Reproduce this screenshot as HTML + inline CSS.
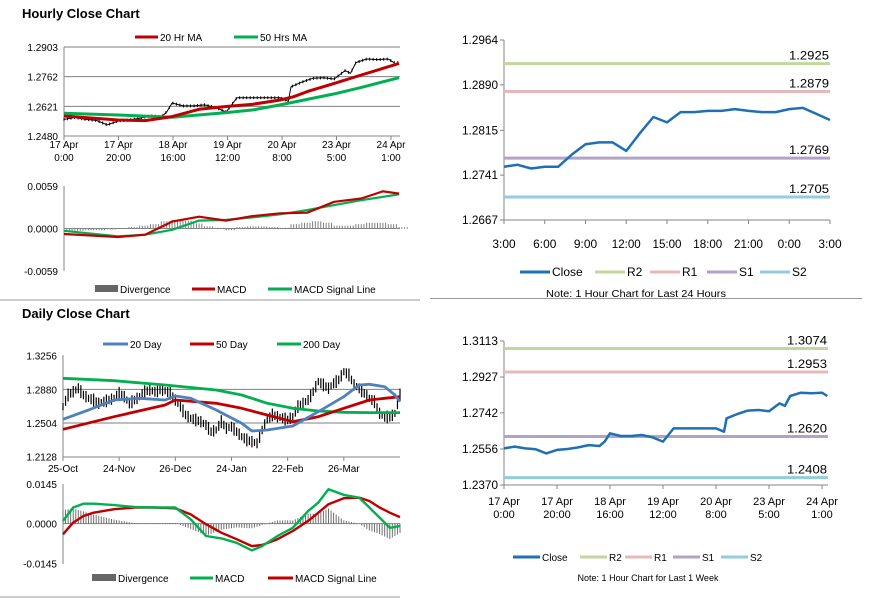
<!DOCTYPE html>
<html><head><meta charset="utf-8"><style>
html,body{margin:0;padding:0;background:#fff;}
svg{display:block;font-family:"Liberation Sans",sans-serif;}
</style></head><body>
<svg id="s" width="873" height="601" viewBox="0 0 873 601" xmlns="http://www.w3.org/2000/svg"></svg>
<script>
// ---------- DATA ----------
// Hourly (last week), hour index from 17 Apr 0:00
const wkHours=[0,4,8,12,16,20,24,28,32,36,38,40,44,48,52,56,60,64,68,72,76,80,83,84,88,92,96,100,104,106,108,112,116,120,122];
const wkClose=[1.2559,1.2568,1.2559,1.2554,1.2533,1.2551,1.2556,1.2564,1.2576,1.2571,1.2594,1.2637,1.2623,1.2623,1.2628,1.2616,1.2594,1.2662,1.2662,1.2662,1.2662,1.2662,1.2645,1.2714,1.2736,1.2754,1.2757,1.2751,1.2791,1.2778,1.2829,1.2846,1.2843,1.2846,1.2829];
const maHours=[0,20,30,40,50,60,70,80,85,90,100,110,124];
const ma20=[1.2575,1.2556,1.2553,1.2572,1.2607,1.2620,1.2631,1.2651,1.2667,1.2691,1.2730,1.2770,1.2825];
const ma50Hours=[0,20,40,60,70,80,90,100,110,124];
const ma50=[1.2588,1.2580,1.2569,1.2591,1.2604,1.2628,1.2654,1.2680,1.2711,1.2757];
const hMacdHours=[0,20,30,40,50,60,70,80,90,100,110,118,124];
const hMacd=[-0.00077,-0.00118,-0.00086,0.00096,0.00164,0.0011,0.00174,0.00211,0.00219,0.0037,0.00416,0.00516,0.00485];
const hSigHours=[0,20,30,40,50,60,70,80,90,100,110,124];
const hSignal=[-0.00032,-0.0011,-0.00086,-0.00018,0.0011,0.00119,0.00156,0.00197,0.00256,0.00325,0.00393,0.00475];
const hDiv=[-0.0003,-0.0003,-0.0002,-0.0002,-0.0001,0,0.0002,0.0004,0.0006,0.0010,0.0012,0.0011,0.0007,0.0003,0.0001,-0.0002,0.0002,0.0003,0.0003,0.0002,0.0001,0.0006,0.0008,0.0010,0.0008,0.0004,0.0004,0.0006,0.0008,0.0008,0.0006,0.0002];
const hourlyTicks=["17 Apr|0:00","17 Apr|20:00","18 Apr|16:00","19 Apr|12:00","20 Apr|8:00","23 Apr|5:00","24 Apr|1:00"];
// Last 24 hours
const dayClose=[1.2755,1.2758,1.2752,1.2755,1.2755,1.2775,1.2792,1.2795,1.2795,1.2781,1.2810,1.2837,1.2828,1.2845,1.2845,1.2847,1.2847,1.2850,1.2847,1.2845,1.2845,1.2850,1.2852,1.2842,1.2832];
const dayTicks=["3:00","6:00","9:00","12:00","15:00","18:00","21:00","0:00","3:00"];
const dayLevels=[1.2925,1.2879,1.2769,1.2705];
const wkLevels=[1.3074,1.2953,1.2620,1.2408];
// Daily
const dClose=[1.2687,1.2817,1.2854,1.2892,1.2817,1.2780,1.2761,1.2724,1.2742,1.2761,1.2780,1.2836,1.2798,1.2724,1.2761,1.2798,1.2854,1.2873,1.2854,1.2873,1.2865,1.2836,1.2761,1.2687,1.2594,1.2557,1.2538,1.2519,1.2482,1.2407,1.2426,1.2519,1.2445,1.2463,1.2407,1.2351,1.2315,1.2296,1.2278,1.2426,1.2538,1.2594,1.2575,1.2557,1.2538,1.2575,1.2687,1.2724,1.2761,1.2854,1.2966,1.2929,1.2892,1.2948,1.2985,1.3077,1.3041,1.2929,1.2892,1.2836,1.2780,1.2742,1.2612,1.2575,1.2568,1.2612,1.2817];
const d20Days=[0,10,20,30,40,44,50,60,70,74,80,90,100,110,116,120,126,130,132];
const d20=[1.2546,1.2650,1.2761,1.2780,1.2761,1.2806,1.2780,1.2650,1.2501,1.2415,1.2426,1.2471,1.2631,1.2798,1.2929,1.2937,1.2910,1.2817,1.2742];
const d50Days=[0,20,40,44,60,70,80,90,100,110,120,126,132];
const d50=[1.2434,1.2575,1.2705,1.2761,1.2724,1.2669,1.2594,1.2519,1.2575,1.2669,1.2761,1.2780,1.2798];
const d200Days=[0,20,40,60,70,80,90,100,110,120,132];
const d200=[1.3004,1.2977,1.2929,1.2873,1.2817,1.2724,1.2669,1.2638,1.2624,1.2620,1.2620];
const dmDays=[0,4,8,12,20,28,36,44,50,56,62,68,74,78,84,90,96,100,104,110,116,120,124,128,132];
const dMacd=[0.0010,0.0059,0.0073,0.0073,0.0068,0.0061,0.0059,0.0059,0.0016,-0.0045,-0.0054,-0.0070,-0.0098,-0.0082,-0.0045,-0.0015,0.0046,0.0077,0.0126,0.0105,0.0095,0.0059,0.0022,-0.0015,-0.0009];
const dSignal=[-0.0039,0.0004,0.0028,0.0040,0.0053,0.0059,0.0059,0.0056,0.0034,-0.0002,-0.0033,-0.0057,-0.0082,-0.0078,-0.0057,-0.0027,0.0010,0.0040,0.0071,0.0093,0.0095,0.0083,0.0059,0.0040,0.0024];
const dDiv=[0.0050,0.0055,0.0045,0.0033,0.0015,0.0002,0.0001,0.0003,-0.0018,-0.0043,-0.0021,-0.0013,-0.0016,-0.0004,0.0012,0.0012,0.0036,0.0037,0.0055,0.0012,0,-0.0024,-0.0037,-0.0055,-0.0033];
const dailyTicks=["25-Oct","24-Nov","26-Dec","24-Jan","22-Feb","26-Mar"];
const dailyTickDays=[0,22,44,66,88,110];

// ---------- HELPERS ----------
const S=document.getElementById('s');const NS='http://www.w3.org/2000/svg';
function el(tag,at,parent){const e=document.createElementNS(NS,tag);for(const k in at)e.setAttribute(k,at[k]);(parent||S).appendChild(e);return e;}
function lin(d0,d1,r0,r1){return v=>r0+(v-d0)/(d1-d0)*(r1-r0);}
function txt(x,y,s,size,anchor,extra,name){const t=el('text',Object.assign({x:x,y:y,'font-size':size,'text-anchor':anchor||'start',fill:'#000'},extra||{}));t.textContent=s;

return t;}
function line(xs,ys,X,Y,color,w,name){const p=el('polyline',{points:xs.map((x,i)=>X(x).toFixed(1)+','+Y(ys[i]).toFixed(1)).join(' '),fill:'none',stroke:color,'stroke-width':w,'stroke-linejoin':'round'});

return p;}
function hline(x1,x2,y,color,w,name){const l=el('line',{x1:x1,x2:x2,y1:y,y2:y,stroke:color,'stroke-width':w});

return l;}
function vline(x,y1,y2,color,w,name){const l=el('line',{x1:x,x2:x,y1:y1,y2:y2,stroke:color,'stroke-width':w});

return l;}
function interp(xs,ys,x){for(let i=0;i<xs.length-1;i++){if(x<=xs[i+1]){const t=(x-xs[i])/(xs[i+1]-xs[i]);return ys[i]+t*(ys[i+1]-ys[i]);}}return ys[ys.length-1];}
function legItem(x,y,color,label,w,isBox){if(isBox){const r=el('rect',{x:x,y:y-4,width:w,height:7,fill:'#666'});}
else hline(x,x+w,y,color,3,'legend-swatch-'+label.toLowerCase().replace(/ /g,'-'));
txt(x+w+2,y+4,label,10,'start',{},'legend-entry-'+label.toLowerCase().replace(/ /g,'-'));}
const AX='#868686',GR='#7f7f7f',RED='#c00000',GRN='#00b050';

// ---------- TITLES / SEPARATORS ----------
txt(22,18,'Hourly Close Chart',13,'start',{'font-weight':'bold'},'hourly-title');
txt(22,318,'Daily Close Chart',13,'start',{'font-weight':'bold'},'daily-title');
hline(0,420,300,'#999',1,'separator-left');hline(430,862,298.5,'#999',1,'separator-right');hline(0,400,597,'#999',1,'separator-bottom');

// ---------- HOURLY PRICE ----------
{const X=lin(0,121,64,391),Y=lin(1.2480,1.2903,136,47);
[1.2903,1.2762,1.2621].forEach(v=>hline(64,400,Y(v),GR,1,'gridline'));
[1.2903,1.2762,1.2621,1.2480].forEach(v=>txt(58,Y(v)+4,v.toFixed(4),10,'end',{},'y-tick-label'));
vline(64,47,136,AX,1,'y-axis');hline(64,400,136,AX,1,'x-axis');
hourlyTicks.forEach((t,i)=>{const x=64+i*54.5;vline(x,136,140,AX,1,'x-tick');const p=t.split('|');txt(x,148,p[0],10,'middle',{},'x-tick-label');txt(x,161,p[1],10,'middle',{},'x-tick-label');});
for(let h=0;h<=124;h+=1.3){const v=interp(wkHours,wkClose,h);vline(X(h),Y(v+0.0007),Y(v-0.0007),'#000',1,'candle');}
line(wkHours,wkClose,X,Y,'#000',1,'hourly-close');
line(ma50Hours,ma50,X,Y,GRN,3,'ma-50-line');line(maHours,ma20,X,Y,RED,3,'ma-20-line');
legItem(135,37,RED,'20 Hr MA',23);legItem(234,37,GRN,'50 Hrs MA',24);}
// ---------- HOURLY MACD ----------
{const X=lin(0,121,64,391),Y=lin(-0.0059,0.0059,271,186);
[0.0059,0,-0.0059].forEach(v=>txt(58,Y(v)+4,v.toFixed(4),10,'end',{},'y-tick-label'));
vline(64,186,271,AX,1,'y-axis');hline(64,400,Y(0),AX,1,'zero-line');
hDiv.forEach((v,i)=>{const h=i*4;for(let k=0;k<4;k++){const x=X(h+k);const r=el('rect',{x:x-0.5,y:Math.min(Y(0),Y(v)),width:1,height:Math.abs(Y(v)-Y(0))+0.3,fill:'#7f7f7f'});}});
line(hSigHours,hSignal,X,Y,GRN,2.2,'macd-signal-line');line(hMacdHours,hMacd,X,Y,RED,2.2,'macd-line');
legItem(95,289,'#666','Divergence',23,true);legItem(192,289,RED,'MACD',23);legItem(268,289,GRN,'MACD Signal Line',24);}

// ---------- LAST 24H ----------
function levelChart(closeXs,close,levels,X,Y,x0,x1,yTop,yBot,ticksY,name){
  const cols=['#c3d69b','#e6b9b8','#b3a2c7','#93cddd'];
  vline(x0,yTop,yBot,AX,1,name+'-y-axis');hline(x0,x1,yBot,AX,1,name+'-x-axis');
  ticksY.forEach(v=>{hline(x0-4,x0,Y(v),AX,1,'y-tick');txt(x0-6,Y(v)+4,v.toFixed(4),12,'end',{'textLength':36,'lengthAdjust':'spacingAndGlyphs'},'y-tick-label');});
  levels.forEach((v,i)=>{hline(x0,x1,Y(v),cols[i],3,['r2','r1','s1','s2'][i]+'-level');txt(x1-1,Y(v)-4,v.toFixed(4),12,'end',{'textLength':40,'lengthAdjust':'spacingAndGlyphs'},'level-value');});
  line(closeXs,close,X,Y,'#1f6fb5',2.5,name+'-close-line');
}
{const x0=504,x1=830,X=lin(0,24,x0,x1),Y=lin(1.2667,1.2964,220,40);
levelChart(dayClose.map((_,i)=>i),dayClose,dayLevels,X,Y,x0,x1,40,220,[1.2964,1.2890,1.2815,1.2741,1.2667],'day');
dayTicks.forEach((t,i)=>{const x=X(i*3);vline(x,220,224,AX,1,'x-tick');txt(x,248,t,12,'middle',{'textLength':t.length*5.8,'lengthAdjust':'spacingAndGlyphs'},'x-tick-label');});
const L=[['Close','#1f6fb5',520],['R2','#c3d69b',595],['R1','#e6b9b8',650],['S1','#b3a2c7',707],['S2','#93cddd',760]];
L.forEach(l=>{hline(l[2],l[2]+30,272,l[1],3,'legend-swatch-'+l[0].toLowerCase());txt(l[2]+32,276,l[0],12,'start',{},'legend-entry-'+l[0].toLowerCase());});
txt(636,297,'Note: 1 Hour Chart for Last 24 Hours',10,'middle',{'textLength':180,'lengthAdjust':'spacingAndGlyphs'},'note-24h');}
// ---------- LAST WEEK ----------
{const x0=504,x1=828,X=lin(0,120,504,822),Y=lin(1.2370,1.3113,485,341);
levelChart(wkHours,wkClose,wkLevels,X,Y,x0,x1,341,485,[1.3113,1.2927,1.2742,1.2556,1.2370],'week');
hourlyTicks.forEach((t,i)=>{const x=X(i*20);vline(x,485,489,AX,1,'x-tick');const p=t.split('|');txt(x,505,p[0],11,'middle',{},'x-tick-label');txt(x,518,p[1],11,'middle',{},'x-tick-label');});
const L=[['Close','#1f6fb5',513],['R2','#c3d69b',580],['R1','#e6b9b8',625],['S1','#b3a2c7',673],['S2','#93cddd',721]];
L.forEach(l=>{hline(l[2],l[2]+27,557,l[1],3,'legend-swatch-'+l[0].toLowerCase());txt(l[2]+29,561,l[0],10,'start',{},'legend-entry-'+l[0].toLowerCase());});
txt(648,581,'Note: 1 Hour Chart for  Last 1 Week',9,'middle',{},'note-week');}

// ---------- DAILY PRICE ----------
{const X=lin(0,132,63,400),Y=lin(1.2128,1.3256,456.7,355.7);
[1.2880,1.2504].forEach(v=>hline(63,400,Y(v),GR,1,'gridline'));
[1.3256,1.2880,1.2504,1.2128].forEach(v=>txt(57,Y(v)+4,v.toFixed(4),10,'end',{},'y-tick-label'));
vline(63,355,457,AX,1,'y-axis');hline(63,400,457,AX,1,'x-axis');
dailyTicks.forEach((t,i)=>{const x=X(dailyTickDays[i]);vline(x,457,461,AX,1,'x-tick');txt(x,472,t,10,'middle',{},'x-tick-label');});
for(let d=0;d<=132;d++){const v=interp(dClose.map((_,i)=>i*2),dClose,d);const w=0.004+((d*7)%5)*0.0008;vline(X(d),Y(v+w),Y(v-w),'#000',1.2,'candle');}
const cd=dClose.map((_,i)=>i*2);
line(d200Days,d200,X,Y,GRN,2.8,'ma-200-day');line(d50Days,d50,X,Y,RED,2.8,'ma-50-day');line(d20Days,d20,X,Y,'#4f81bd',2.8,'ma-20-day');
legItem(103,344,'#4f81bd','20 Day',25);legItem(190,344,RED,'50 Day',24);legItem(277,344,GRN,'200 Day',24);}
// ---------- DAILY MACD ----------
{const X=lin(0,132,63,400),Y=lin(-0.0145,0.0145,563.3,484);
[0.0145,0,-0.0145].forEach(v=>txt(57,Y(v)+4,v.toFixed(4),10,'end',{},'y-tick-label'));
vline(63,484,564,AX,1,'y-axis');hline(63,400,Y(0),AX,1,'zero-line');
for(let d=0;d<=132;d++){const v=interp(dmDays,dDiv,d);const r=el('rect',{x:X(d)-0.5,y:Math.min(Y(0),Y(v)),width:1,height:Math.abs(Y(v)-Y(0))+0.3,fill:'#6f6f6f'});}
line(dmDays,dSignal,X,Y,RED,2.4,'macd-signal-line');line(dmDays,dMacd,X,Y,GRN,2.4,'macd-line');
legItem(92,578,'#666','Divergence',24,true);legItem(190,578,GRN,'MACD',23);legItem(268,578,RED,'MACD Signal Line',25);}
</script>
</body></html>
